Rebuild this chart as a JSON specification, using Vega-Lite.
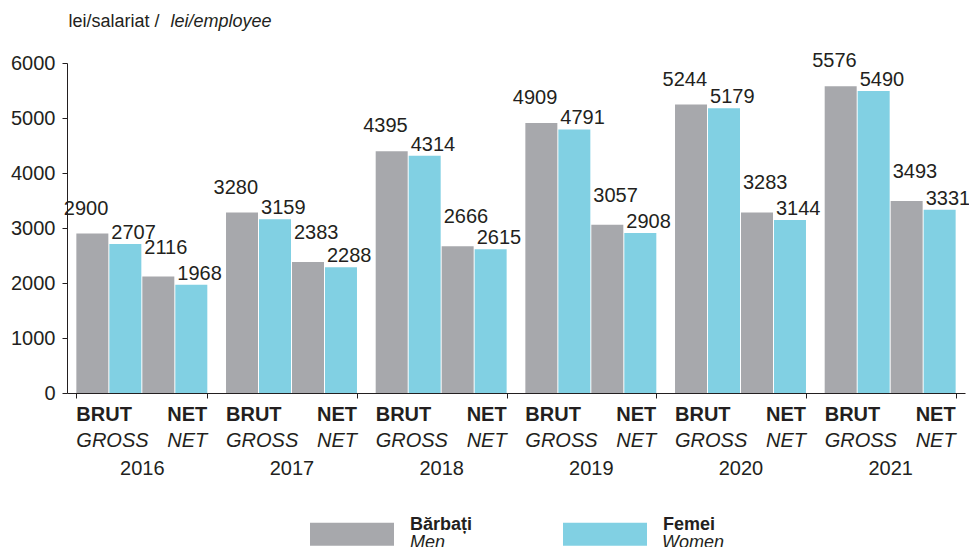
{
  "$schema": "https://vega.github.io/schema/vega-lite/v6.json",
  "width": 898,
  "height": 330,
  "autosize": {"type": "none"},
  "padding": {"left": 67, "top": 63, "right": 4, "bottom": 154},
  "background": "white",
  "config": {
    "view": {"stroke": null},
    "font": "Liberation Sans",
    "text": {"font": "Liberation Sans", "fontSize": 20, "color": "#231f20"},
    "axis": {"labelFont": "Liberation Sans", "titleFont": "Liberation Sans", "labelColor": "#231f20", "titleColor": "#231f20", "domainColor": "#231f20", "tickColor": "#231f20"},
    "legend": {"labelFont": "Liberation Sans", "labelColor": "#231f20"}
  },
  "datasets": {
    "salaries": [
      {"year": "2016", "type": "BRUT", "sex": "Bărbați", "sexEn": "Men", "grp": "BRUT-M", "value": 2900},
      {"year": "2016", "type": "BRUT", "sex": "Femei", "sexEn": "Women", "grp": "BRUT-F", "value": 2707},
      {"year": "2016", "type": "NET", "sex": "Bărbați", "sexEn": "Men", "grp": "NET-M", "value": 2116},
      {"year": "2016", "type": "NET", "sex": "Femei", "sexEn": "Women", "grp": "NET-F", "value": 1968},
      {"year": "2017", "type": "BRUT", "sex": "Bărbați", "sexEn": "Men", "grp": "BRUT-M", "value": 3280},
      {"year": "2017", "type": "BRUT", "sex": "Femei", "sexEn": "Women", "grp": "BRUT-F", "value": 3159},
      {"year": "2017", "type": "NET", "sex": "Bărbați", "sexEn": "Men", "grp": "NET-M", "value": 2383},
      {"year": "2017", "type": "NET", "sex": "Femei", "sexEn": "Women", "grp": "NET-F", "value": 2288},
      {"year": "2018", "type": "BRUT", "sex": "Bărbați", "sexEn": "Men", "grp": "BRUT-M", "value": 4395},
      {"year": "2018", "type": "BRUT", "sex": "Femei", "sexEn": "Women", "grp": "BRUT-F", "value": 4314},
      {"year": "2018", "type": "NET", "sex": "Bărbați", "sexEn": "Men", "grp": "NET-M", "value": 2666},
      {"year": "2018", "type": "NET", "sex": "Femei", "sexEn": "Women", "grp": "NET-F", "value": 2615},
      {"year": "2019", "type": "BRUT", "sex": "Bărbați", "sexEn": "Men", "grp": "BRUT-M", "value": 4909},
      {"year": "2019", "type": "BRUT", "sex": "Femei", "sexEn": "Women", "grp": "BRUT-F", "value": 4791},
      {"year": "2019", "type": "NET", "sex": "Bărbați", "sexEn": "Men", "grp": "NET-M", "value": 3057},
      {"year": "2019", "type": "NET", "sex": "Femei", "sexEn": "Women", "grp": "NET-F", "value": 2908},
      {"year": "2020", "type": "BRUT", "sex": "Bărbați", "sexEn": "Men", "grp": "BRUT-M", "value": 5244},
      {"year": "2020", "type": "BRUT", "sex": "Femei", "sexEn": "Women", "grp": "BRUT-F", "value": 5179},
      {"year": "2020", "type": "NET", "sex": "Bărbați", "sexEn": "Men", "grp": "NET-M", "value": 3283},
      {"year": "2020", "type": "NET", "sex": "Femei", "sexEn": "Women", "grp": "NET-F", "value": 3144},
      {"year": "2021", "type": "BRUT", "sex": "Bărbați", "sexEn": "Men", "grp": "BRUT-M", "value": 5576},
      {"year": "2021", "type": "BRUT", "sex": "Femei", "sexEn": "Women", "grp": "BRUT-F", "value": 5490},
      {"year": "2021", "type": "NET", "sex": "Bărbați", "sexEn": "Men", "grp": "NET-M", "value": 3493},
      {"year": "2021", "type": "NET", "sex": "Femei", "sexEn": "Women", "grp": "NET-F", "value": 3331}
    ],
    "years": [
      {"year": "2016"}, {"year": "2017"}, {"year": "2018"}, {"year": "2019"}, {"year": "2020"}, {"year": "2021"}
    ]
  },
  "layer": [
    {
      "data": {"name": "salaries"},
      "mark": {"type": "bar"},
      "encoding": {
        "x": {
          "field": "year", "type": "nominal",
          "scale": {"paddingInner": 0.125, "paddingOuter": 0.0625},
          "axis": {
            "title": "lei/employee", "titleFontStyle": "italic", "titleFontWeight": "normal", "titleFontSize": 18,
            "titleX": 103, "titleY": -367, "titleAlign": "left", "titleBaseline": "alphabetic",
            "labelAngle": 0, "labelFontSize": 20, "labelBaseline": "alphabetic", "labelPadding": 76,
            "tickBand": "extent", "tickSize": 5, "grid": false
          }
        },
        "xOffset": {
          "field": "grp", "type": "nominal", "sort": ["BRUT-M", "BRUT-F", "NET-M", "NET-F"],
          "scale": {"paddingInner": 0.03, "paddingOuter": 0}
        },
        "y": {
          "field": "value", "type": "quantitative",
          "scale": {"domain": [0, 6000], "nice": false},
          "axis": {
            "title": "lei/salariat /", "titleAngle": 0, "titleX": 1, "titleY": -37, "titleAlign": "left",
            "titleBaseline": "alphabetic", "titleFontSize": 18, "titleFontWeight": "normal",
            "values": [0, 1000, 2000, 3000, 4000, 5000, 6000], "format": "d", "labelFontSize": 20, "labelPadding": 7,
            "tickSize": 5, "grid": false
          }
        },
        "color": {
          "field": "sex", "type": "nominal",
          "scale": {"domain": ["Bărbați", "Femei"], "range": ["#a7a8ac", "#81d0e3"]},
          "legend": {
            "orient": "none", "legendX": 243, "legendY": 429, "direction": "horizontal", "title": null,
            "symbolType": "M-1,-0.274H1V0.274H-1Z", "symbolSize": 7056, "symbolStrokeWidth": 0,
            "labelFontSize": 18, "labelFontWeight": "bold", "labelBaseline": "bottom", "labelOffset": 16, "columnPadding": 90, "padding": 0
          }
        },
        "opacity": {
          "field": "sexEn", "type": "nominal",
          "scale": {"domain": ["Men", "Women"], "range": [1, 1]},
          "legend": {
            "orient": "none", "legendX": 243, "legendY": 429, "direction": "horizontal", "title": null,
            "symbolType": "M-1,-0.274H1V0.274H-1Z", "symbolSize": 7056, "symbolFillColor": "transparent",
            "symbolStrokeColor": "transparent", "symbolStrokeWidth": 0,
            "labelFontSize": 18, "labelFontStyle": "italic", "labelBaseline": "top", "labelOffset": 16, "columnPadding": 116, "padding": 0
          }
        }
      }
    },
    {
      "data": {"name": "salaries"},
      "transform": [{"filter": "datum.grp === 'BRUT-M'"}],
      "mark": {"type": "text", "align": "right", "baseline": "alphabetic", "dx": 16, "dy": -19},
      "encoding": {
        "x": {"field": "year", "type": "nominal"},
        "xOffset": {"field": "grp", "type": "nominal", "sort": ["BRUT-M", "BRUT-F", "NET-M", "NET-F"]},
        "y": {"field": "value", "type": "quantitative"},
        "text": {"field": "value", "type": "quantitative", "format": "d"}
      }
    },
    {
      "data": {"name": "salaries"},
      "transform": [{"filter": "datum.grp === 'NET-M'"}],
      "mark": {"type": "text", "align": "left", "baseline": "alphabetic", "dx": -14, "dy": -23},
      "encoding": {
        "x": {"field": "year", "type": "nominal"},
        "xOffset": {"field": "grp", "type": "nominal", "sort": ["BRUT-M", "BRUT-F", "NET-M", "NET-F"]},
        "y": {"field": "value", "type": "quantitative"},
        "text": {"field": "value", "type": "quantitative", "format": "d"}
      }
    },
    {
      "data": {"name": "salaries"},
      "transform": [{"filter": "datum.sexEn === 'Women'"}],
      "mark": {"type": "text", "align": "left", "baseline": "alphabetic", "dx": -14, "dy": -5},
      "encoding": {
        "x": {"field": "year", "type": "nominal"},
        "xOffset": {"field": "grp", "type": "nominal", "sort": ["BRUT-M", "BRUT-F", "NET-M", "NET-F"]},
        "y": {"field": "value", "type": "quantitative"},
        "text": {"field": "value", "type": "quantitative", "format": "d"}
      }
    },
    {
      "data": {"name": "years"},
      "mark": {"type": "text", "text": "BRUT", "align": "left", "baseline": "alphabetic", "fontWeight": "bold", "dy": 28},
      "encoding": {"x": {"field": "year", "type": "nominal", "bandPosition": 0}, "y": {"datum": 0}}
    },
    {
      "data": {"name": "years"},
      "mark": {"type": "text", "text": "NET", "align": "right", "baseline": "alphabetic", "fontWeight": "bold", "dy": 28},
      "encoding": {"x": {"field": "year", "type": "nominal", "bandPosition": 1}, "y": {"datum": 0}}
    },
    {
      "data": {"name": "years"},
      "mark": {"type": "text", "text": "GROSS", "align": "left", "baseline": "alphabetic", "fontStyle": "italic", "dy": 54},
      "encoding": {"x": {"field": "year", "type": "nominal", "bandPosition": 0}, "y": {"datum": 0}}
    },
    {
      "data": {"name": "years"},
      "mark": {"type": "text", "text": "NET", "align": "right", "baseline": "alphabetic", "fontStyle": "italic", "dy": 54},
      "encoding": {"x": {"field": "year", "type": "nominal", "bandPosition": 1}, "y": {"datum": 0}}
    }
  ]
}
